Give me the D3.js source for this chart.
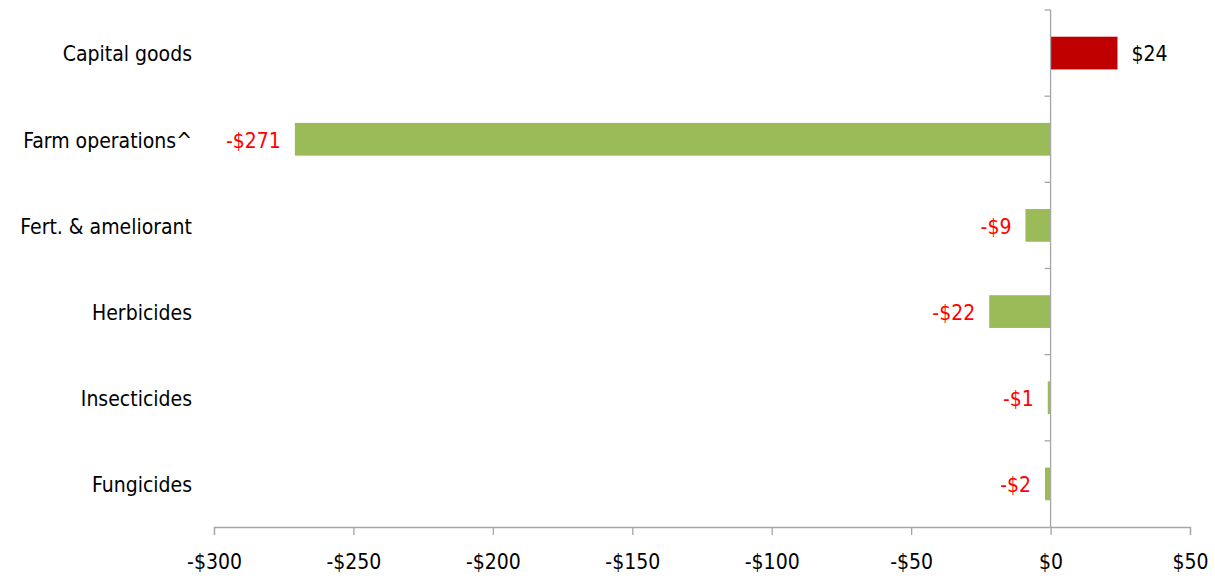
<!DOCTYPE html>
<html>
<head>
<meta charset="utf-8">
<script src="https://cdn.jsdelivr.net/npm/d3@7"></script>
<style>
  html, body { margin: 0; padding: 0; background: #fff; }
  svg text { font-family: "Liberation Sans Narrow", "DejaVu Sans Condensed", "Liberation Sans", sans-serif; font-weight: 400; }
</style>
</head>
<body>
<svg id="chart" width="1215" height="578"></svg>
<script>
// Cost change by input category ($)
const categories = ["Capital goods", "Farm operations^", "Fert. & ameliorant", "Herbicides", "Insecticides", "Fungicides"];
const values = [24, -271, -9, -22, -1, -2];
const valueLabels = ["$24", "-$271", "-$9", "-$22", "-$1", "-$2"];
const xTicks = [-300, -250, -200, -150, -100, -50, 0, 50];
const xTickLabels = ["-$300", "-$250", "-$200", "-$150", "-$100", "-$50", "$0", "$50"];

const svg = d3.select("#chart");
const margin = { left: 214, right: 25, top: 10, bottom: 50 };
const plotBottom = 527;

const x = d3.scaleLinear().domain([-300, 50]).range([margin.left, 1190]);
const y = d3.scaleBand().domain(categories).range([margin.top, plotBottom]).paddingInner(0.62).paddingOuter(0.31);
const band = d3.scaleBand().domain(categories).range([margin.top, plotBottom]);

const axisColor = "#a6a6a6";

// Bars
svg.append("g").selectAll("rect")
  .data(values)
  .join("rect")
  .attr("x", d => x(Math.min(0, d)))
  .attr("y", (d, i) => y(categories[i]))
  .attr("width", d => Math.abs(x(d) - x(0)))
  .attr("height", y.bandwidth())
  .attr("fill", d => d >= 0 ? "#c00000" : "#9bbb59");

// X axis along the bottom
const xAxis = svg.append("g")
  .attr("transform", `translate(0,${plotBottom})`)
  .call(d3.axisBottom(x).tickValues(xTicks).tickSize(8).tickPadding(19)
    .tickFormat((d, i) => xTickLabels[i]));
xAxis.select(".domain").attr("stroke", axisColor).attr("stroke-width", 1.3);
xAxis.selectAll(".tick line").attr("stroke", axisColor).attr("stroke-width", 1.3);
xAxis.selectAll(".tick text").attr("font-size", 21).attr("fill", "#000");

// Vertical axis at zero with ticks between categories
const yLine = svg.append("g");
yLine.append("line")
  .attr("x1", x(0)).attr("x2", x(0))
  .attr("y1", margin.top).attr("y2", plotBottom)
  .attr("stroke", axisColor).attr("stroke-width", 1.3);
yLine.selectAll("line.tick")
  .data(categories)
  .join("line")
  .attr("class", "tick")
  .attr("x1", x(0) - 6).attr("x2", x(0))
  .attr("y1", d => band(d)).attr("y2", d => band(d))
  .attr("stroke", axisColor).attr("stroke-width", 1.3);

// Category labels
svg.append("g").selectAll("text")
  .data(categories)
  .join("text")
  .attr("x", 192)
  .attr("y", d => band(d) + band.bandwidth() / 2 + 1)
  .attr("dy", "0.35em")
  .attr("text-anchor", "end")
  .attr("font-size", 21)
  .attr("fill", "#000")
  .text(d => d);

// Value labels
svg.append("g").selectAll("text")
  .data(values)
  .join("text")
  .attr("x", d => d >= 0 ? x(d) + 14 : x(d) - 14)
  .attr("y", (d, i) => band(categories[i]) + band.bandwidth() / 2 + 1)
  .attr("dy", "0.35em")
  .attr("text-anchor", d => d >= 0 ? "start" : "end")
  .attr("font-size", 21)
  .attr("fill", d => d >= 0 ? "#000" : "#ff0000")
  .text((d, i) => valueLabels[i]);
</script>
</body>
</html>
